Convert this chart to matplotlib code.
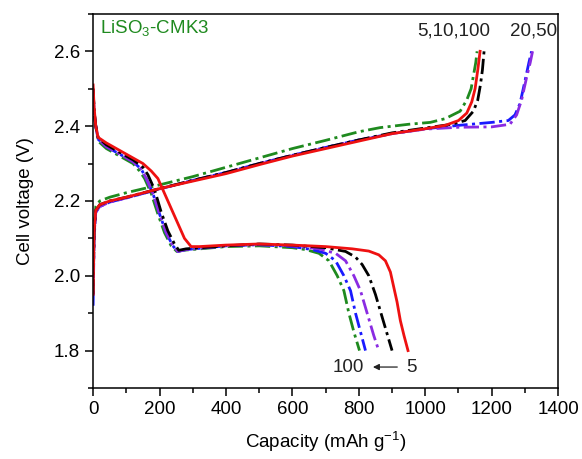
import numpy as np
import matplotlib
matplotlib.use('Agg')
import matplotlib.pyplot as plt
from matplotlib.ticker import MultipleLocator

plt.rcParams['font.family'] = ['Liberation Sans', 'DejaVu Sans']
plt.rcParams['mathtext.fontset'] = 'custom'
plt.rcParams['mathtext.rm'] = 'Liberation Sans'

# discharge curves (capacity, voltage) per rate
dis_cap_5 = [0, 3, 8, 15, 40, 80, 120, 150, 175, 195, 220, 250, 275, 295, 320, 400, 500, 600, 700, 780, 830, 860, 880, 895, 905, 915, 925, 936, 948]
dis_v_5 = [2.51, 2.45, 2.40, 2.37, 2.355, 2.335, 2.315, 2.30, 2.28, 2.26, 2.21, 2.15, 2.10, 2.078, 2.078, 2.082, 2.085, 2.082, 2.078, 2.072, 2.066, 2.056, 2.04, 2.01, 1.97, 1.93, 1.88, 1.84, 1.80]

dis_cap_10 = [0, 3, 8, 15, 40, 80, 120, 150, 165, 185, 205, 225, 245, 258, 280, 400, 500, 600, 700, 760, 790, 810, 830, 850, 870, 890, 900]
dis_v_10 = [2.50, 2.44, 2.40, 2.37, 2.35, 2.33, 2.31, 2.29, 2.27, 2.23, 2.17, 2.12, 2.085, 2.068, 2.072, 2.08, 2.085, 2.082, 2.075, 2.065, 2.05, 2.03, 2.0, 1.95, 1.89, 1.83, 1.80]

dis_cap_20 = [0, 3, 8, 15, 40, 80, 120, 145, 160, 180, 200, 220, 240, 255, 280, 400, 500, 600, 680, 730, 760, 785, 805, 825, 845, 860]
dis_v_20 = [2.50, 2.44, 2.40, 2.365, 2.345, 2.325, 2.305, 2.285, 2.26, 2.22, 2.165, 2.115, 2.08, 2.065, 2.07, 2.08, 2.083, 2.08, 2.072, 2.06, 2.04, 2.0, 1.96, 1.9, 1.84, 1.80]

dis_cap_50 = [0, 3, 8, 15, 40, 80, 120, 145, 160, 180, 200, 220, 240, 255, 280, 400, 500, 600, 660, 700, 730, 755, 775, 790, 805, 820]
dis_v_50 = [2.49, 2.44, 2.40, 2.365, 2.345, 2.325, 2.305, 2.285, 2.26, 2.22, 2.165, 2.115, 2.08, 2.065, 2.07, 2.08, 2.083, 2.078, 2.07, 2.06, 2.04, 2.0, 1.96, 1.9, 1.85, 1.80]

dis_cap_100 = [0, 3, 8, 15, 40, 80, 120, 140, 155, 175, 195, 215, 235, 252, 270, 400, 500, 600, 640, 680, 710, 735, 755, 770, 785, 802]
dis_v_100 = [2.50, 2.44, 2.40, 2.36, 2.34, 2.32, 2.30, 2.28, 2.26, 2.22, 2.165, 2.115, 2.08, 2.065, 2.068, 2.078, 2.08, 2.075, 2.07, 2.06, 2.04, 2.0, 1.96, 1.9, 1.85, 1.80]

# charge curves
chg_cap_5 = [0, 3, 8, 20, 50, 100, 200, 300, 400, 500, 600, 700, 800, 900, 1000, 1060, 1100, 1125, 1140, 1150, 1158, 1165]
chg_v_5 = [1.95, 2.12, 2.175, 2.19, 2.2, 2.21, 2.233, 2.253, 2.273, 2.297, 2.32, 2.34, 2.36, 2.38, 2.393, 2.402, 2.415, 2.435, 2.465, 2.5, 2.55, 2.6]

chg_cap_10 = [0, 3, 8, 20, 50, 100, 200, 300, 400, 500, 600, 700, 800, 900, 1000, 1080, 1120, 1145, 1158, 1166, 1172, 1177]
chg_v_10 = [1.95, 2.12, 2.175, 2.19, 2.2, 2.21, 2.233, 2.255, 2.276, 2.3, 2.322, 2.343, 2.363, 2.382, 2.395, 2.405, 2.415, 2.44, 2.47, 2.51, 2.55, 2.6]

chg_cap_20 = [0, 3, 8, 20, 50, 100, 200, 300, 400, 500, 600, 700, 800, 900, 1000, 1100, 1200, 1255, 1275, 1290, 1305, 1316, 1323]
chg_v_20 = [1.95, 2.11, 2.17, 2.185, 2.197, 2.208, 2.232, 2.255, 2.276, 2.3, 2.322, 2.343, 2.363, 2.38, 2.392, 2.397, 2.398, 2.405, 2.43, 2.47, 2.53, 2.57, 2.6]

chg_cap_50 = [0, 3, 8, 20, 50, 100, 200, 300, 400, 500, 600, 700, 800, 900, 1000, 1100, 1200, 1250, 1270, 1285, 1300, 1312, 1320]
chg_v_50 = [1.92, 2.1, 2.17, 2.185, 2.197, 2.208, 2.232, 2.255, 2.276, 2.3, 2.322, 2.343, 2.363, 2.38, 2.393, 2.402, 2.41, 2.415, 2.43, 2.46, 2.52, 2.57, 2.6]

chg_cap_100 = [0, 3, 8, 20, 50, 100, 200, 300, 400, 500, 600, 700, 800, 864, 950, 1015, 1060, 1105, 1125, 1138, 1146, 1152, 1156]
chg_v_100 = [2.0, 2.13, 2.185, 2.2, 2.21, 2.222, 2.243, 2.265, 2.29, 2.315, 2.34, 2.362, 2.385, 2.396, 2.405, 2.41, 2.42, 2.44, 2.47, 2.5, 2.54, 2.57, 2.6]

fig = plt.figure(figsize=(5.82, 4.59), dpi=100)
ax = fig.add_axes([0.16, 0.1547, 0.799, 0.815])

dd = (5.5, 1.6, 1.1, 1.6)
series = [
    (dis_cap_100, dis_v_100, chg_cap_100, chg_v_100, '#1f8a1f', dd),
    (dis_cap_50, dis_v_50, chg_cap_50, chg_v_50, '#1a1aff', dd),
    (dis_cap_20, dis_v_20, chg_cap_20, chg_v_20, '#8a2be2', dd),
    (dis_cap_10, dis_v_10, chg_cap_10, chg_v_10, 'black', dd),
    (dis_cap_5, dis_v_5, chg_cap_5, chg_v_5, '#ee1111', None),
]
for dc, dv, cc, cv, col, dash in series:
    for x, y in [(dc, dv), (cc, cv)]:
        line, = ax.plot(x, y, color=col, lw=2.0)
        if dash:
            line.set_dashes(dash)

ax.set_xlim(0, 1400)
ax.set_ylim(1.7, 2.7)
ax.xaxis.set_major_locator(MultipleLocator(200))
ax.xaxis.set_minor_locator(MultipleLocator(100))
ax.yaxis.set_major_locator(MultipleLocator(0.2))
ax.yaxis.set_minor_locator(MultipleLocator(0.1))
ax.set_yticks([1.8, 2.0, 2.2, 2.4, 2.6])
ax.tick_params(which='both', direction='out', top=False, right=False, labelsize=13.5, width=1.1)
ax.tick_params(which='major', length=6)
ax.tick_params(which='minor', length=3.5)
for s in ax.spines.values():
    s.set_linewidth(1.1)

ax.set_xlabel('Capacity (mAh g$^{\\mathregular{-1}}$)', fontsize=13.5, labelpad=8)
ax.set_ylabel('Cell voltage (V)', fontsize=13.5, labelpad=14)

ax.text(21, 2.66, 'LiSO$_{\\mathregular{3}}$-CMK3', color='#1f8a1f', fontsize=13.5, va='center', ha='left')
ax.text(1087, 2.655, '5,10,100', fontsize=13.5, ha='center', va='center', color='#222222')
ax.text(1325, 2.655, '20,50', fontsize=13.5, ha='center', va='center', color='#222222')
ax.text(768, 1.756, '100', fontsize=13.5, ha='center', va='center', color='#222222')
ax.text(957, 1.756, '5', fontsize=13.5, ha='center', va='center', color='#222222')
ax.annotate('', xy=(834, 1.756), xytext=(924, 1.756),
            arrowprops=dict(arrowstyle='-|>', color='#222222', lw=0.9, mutation_scale=9))

fig.savefig('out.png', dpi=100)
